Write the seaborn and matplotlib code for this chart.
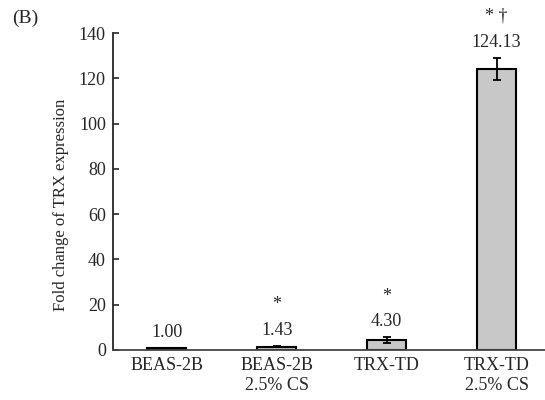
import matplotlib
matplotlib.use("Agg")
import matplotlib.pyplot as plt
import seaborn as sns
import pandas as pd

groups = ["BEAS-2B", "BEAS-2B\n2.5% CS", "TRX-TD", "TRX-TD\n2.5% CS"]
fold_change = [1.00, 1.43, 4.30, 124.13]
errors = [0.0, 0.3, 1.3, 5.0]
value_labels = ["1.00", "1.43", "4.30", "124.13"]
sig_labels = ["", "*", "*", "* \u2020"]
y_ticks = [0, 20, 40, 60, 80, 100, 120, 140]

sns.set_style("ticks")
plt.rcParams["font.family"] = ["Liberation Serif", "DejaVu Serif"]

df = pd.DataFrame({"group": groups, "fold": fold_change})

fig = plt.figure(figsize=(5.45, 4.0), dpi=100)
ax = fig.add_axes([0.207, 0.125, 0.793, 0.7925])

sns.barplot(data=df, x="group", y="fold", order=groups, color="#c8c8c8",
            saturation=1, width=0.35, edgecolor="black", linewidth=1.5,
            errorbar=None, ax=ax)

xs = list(range(len(groups)))
ax.errorbar(xs[1:], fold_change[1:], yerr=errors[1:], fmt="none",
            ecolor="black", elinewidth=1.3, capsize=3, capthick=1.3, zorder=5)

for x, v, e, lab, sig in zip(xs, fold_change, errors, value_labels, sig_labels):
    ax.annotate(lab, (x, v + e), xytext=(0, 8), textcoords="offset points",
                ha="center", va="baseline", fontsize=13)
    if sig:
        ax.annotate(sig, (x, v + e), xytext=(0, 26.5), textcoords="offset points",
                    ha="center", va="baseline", fontsize=13)

ax.set_ylim(0, 140)
ax.set_xlim(-0.49, 3.44)
ax.set_yticks(y_ticks)
ax.set_yticklabels([str(t) for t in y_ticks], fontsize=13)
ax.tick_params(axis="x", length=0, labelsize=13, pad=5)
ax.tick_params(axis="y", length=4.5, width=1.2, direction="in", pad=5)
for t in ax.get_xticklabels():
    t.set_linespacing(1.25)
ax.set_xlabel("")
ax.set_ylabel("Fold change of TRX expression", fontsize=12)
ax.yaxis.set_label_coords(-0.101, 0.457)
for s in ["top", "right"]:
    ax.spines[s].set_visible(False)
ax.spines["left"].set_linewidth(1.3)
ax.spines["bottom"].set_linewidth(1.3)
ax.spines["bottom"].set_color("#444444")

fig.text(0.022, 0.955, "(B)", fontsize=14, ha="left", va="center")

fig.savefig("out.png", dpi=100)
